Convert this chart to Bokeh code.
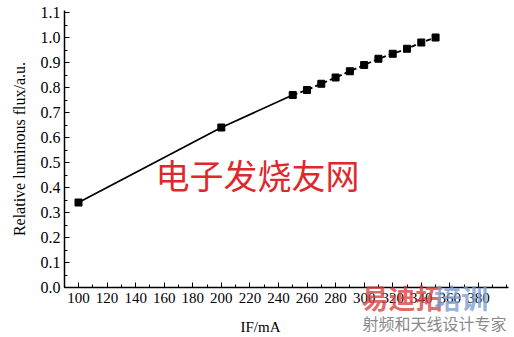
from bokeh.plotting import figure
from bokeh.models import Range1d, FixedTicker, Label, ColumnDataSource
from bokeh.embed import file_html
from bokeh.resources import INLINE

# Data
current_ma = [100, 200, 250, 260, 270, 280, 290, 300, 310, 320, 330, 340, 350]
rel_flux = [0.34, 0.64, 0.77, 0.79, 0.815, 0.84, 0.865, 0.89, 0.915, 0.935, 0.955, 0.98, 1.0]
x_ticks = list(range(100, 400, 20))
x_minor = list(range(90, 410, 10))
y_ticks = [round(0.1 * i, 1) for i in range(0, 12)]
y_minor = [round(0.05 * i, 2) for i in range(0, 23)]
y_tick_labels = {t: f"{t:.1f}" for t in y_ticks}

SERIF = "Liberation Serif"
CJK = "Noto Sans CJK SC"

X0, X1 = 90.2, 401.0   # extent of the drawn x axis
Y0, Y1 = 0.0, 1.108    # extent of the drawn y axis

p = figure(width=514, height=337, output_backend="svg", toolbar_location=None,
           x_range=Range1d(45.39, 405.26), y_range=Range1d(-0.2, 1.148),
           min_border=0, min_border_left=0, min_border_right=0,
           min_border_top=0, min_border_bottom=0)
p.outline_line_color = None
p.grid.visible = False
p.background_fill_color = "white"
p.border_fill_color = "white"

solid = ColumnDataSource(dict(x=current_ma[:3], y=rel_flux[:3]))
dashed = ColumnDataSource(dict(x=current_ma[2:], y=rel_flux[2:]))
allpts = ColumnDataSource(dict(x=current_ma, y=rel_flux))

p.line("x", "y", source=solid, line_color="black", line_width=1.8)
p.line("x", "y", source=dashed, line_color="black", line_width=1.8, line_dash="5 3")
p.scatter("x", "y", source=allpts, marker="square", size=7, fill_color="black", line_color="black")

for ax in (p.xaxis[0], p.yaxis[0]):
    ax.axis_line_color = "black"
    ax.axis_line_width = 1.5
    ax.major_tick_in = 5
    ax.major_tick_out = 0
    ax.minor_tick_in = 3
    ax.minor_tick_out = 0
    ax.major_tick_line_color = "black"
    ax.minor_tick_line_color = "black"
    ax.major_label_text_font = SERIF
    ax.major_label_text_color = "black"
    ax.axis_label_text_font = SERIF
    ax.axis_label_text_font_style = "normal"
    ax.axis_label_text_color = "black"

p.xaxis.fixed_location = Y0
p.xaxis.bounds = (X0, X1)
p.xaxis.ticker = FixedTicker(ticks=x_ticks, minor_ticks=x_minor)
p.xaxis.major_label_text_font_size = "15px"
p.xaxis.major_label_standoff = 5

p.yaxis.fixed_location = X0
p.yaxis.bounds = (Y0, Y1)
p.yaxis.ticker = FixedTicker(ticks=y_ticks, minor_ticks=y_minor)
p.yaxis.major_label_overrides = y_tick_labels
p.yaxis.major_label_text_font_size = "16px"
p.yaxis.major_label_standoff = 4
p.yaxis.axis_label = "Relative luminous flux/a.u."
p.yaxis.axis_label_text_font_size = "16px"
p.yaxis.axis_label_standoff = 10

# x-axis title (placed left of centre as in the reference)
p.add_layout(Label(x=227.4, y=-0.156, text="IF/mA", text_font=SERIF, text_font_size="15px",
                   text_color="black", text_align="center", text_baseline="alphabetic"))

# watermarks
p.add_layout(Label(x=153.9, y=0.55, text="电子发烧友网", text_font=CJK, text_font_size="34px",
                   text_color="#e0282c", text_align="left", text_baseline="top"))
p.add_layout(Label(x=298.2, y=0.04, text="易迪拓", text_font=CJK, text_font_size="27px",
                   text_font_style="bold", text_color="#d9413f", text_alpha=0.8,
                   text_align="left", text_baseline="top"))
p.add_layout(Label(x=349.0, y=0.04, text="培训", text_font=CJK, text_font_size="27px",
                   text_font_style="bold", text_color="#7a9ed3", text_alpha=0.8,
                   text_align="left", text_baseline="top"))
p.add_layout(Label(x=298.9, y=-0.094, text="射频和天线设计专家", text_font=CJK, text_font_size="16px",
                   text_color="#8a8a8a", text_align="left", text_baseline="top"))

open("out.html", "w").write(file_html(p, INLINE))
